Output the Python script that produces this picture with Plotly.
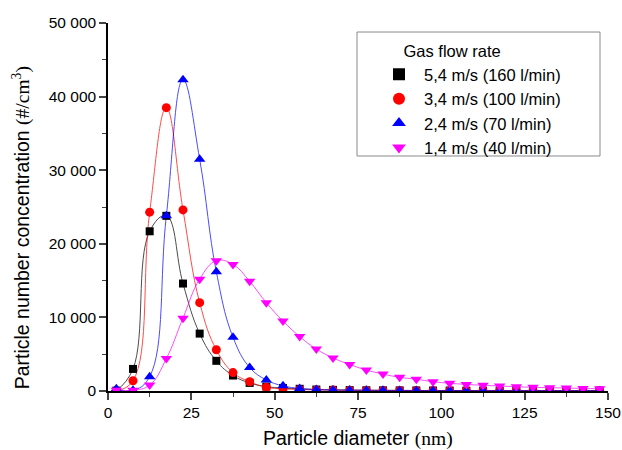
import plotly.graph_objects as go

diameter = [2.5 + 5 * i for i in range(30)]

series_names = ["5,4 m/s (160 l/min)", "3,4 m/s (100 l/min)",
                "2,4 m/s (70 l/min)", "1,4 m/s (40 l/min)"]

conc_54 = [50, 3000, 21700, 23800, 14600, 7800, 4100, 2100, 1100, 600,
           400, 300, 200, 150, 120, 100, 90, 80, 70, 60,
           60, 50, 50, 50, 50, 50, 50, 50, 50, 50]
conc_34 = [50, 1400, 24300, 38500, 24600, 12000, 5600, 2500, 1260, 500,
           300, 200, 150, 120, 100, 90, 80, 70, 60, 60,
           50, 50, 50, 50, 50, 50, 50, 50, 50, 50]
conc_24 = [300, 100, 1950, 23800, 42300, 31500, 16200, 7300, 3200, 1500,
           700, 350, 200, 150, 120, 100, 90, 80, 70, 60,
           60, 50, 50, 50, 50, 50, 50, 50, 50, 50]
conc_14 = [100, 100, 800, 4400, 9900, 15200, 17700, 17200, 14900, 12000,
           9500, 7400, 5700, 4500, 3600, 2850, 2300, 1860, 1600, 1270,
           1050, 900, 770, 680, 580, 500, 450, 400, 350, 300]

y_tick_vals = [0, 10000, 20000, 30000, 40000, 50000]
y_tick_text = ["0", "10 000", "20 000", "30 000", "40 000", "50 000"]
x_tick_vals = [0, 25, 50, 75, 100, 125, 150]

colors = ["#000000", "#ff0000", "#0000ff", "#ff00ff"]
symbols = ["square", "circle", "triangle-up", "triangle-down"]
sizes = [8, 9, 10, 10]
all_series = [conc_54, conc_34, conc_24, conc_14]

fig = go.Figure()
for name, ys, c in zip(series_names, all_series, colors):
    fig.add_trace(go.Scatter(
        x=diameter, y=ys, mode="lines",
        line=dict(color=c, width=1, shape="spline", smoothing=1.2),
        opacity=0.7, showlegend=False, hoverinfo="skip"))
for name, ys, c, s, sz in zip(series_names, all_series, colors, symbols, sizes):
    fig.add_trace(go.Scatter(
        x=diameter, y=ys, mode="markers", name=name,
        marker=dict(color=c, symbol=s, size=sz, line=dict(width=0))))

font_main = "Liberation Sans, Arial, sans-serif"

# legend frame
fig.add_shape(type="rect", xref="paper", yref="paper",
              x0=0.498, x1=0.984, y0=0.6386, y1=0.9755,
              line=dict(color="#8a8a8a", width=1), fillcolor="white", layer="below")

# axis titles as annotations
fig.add_annotation(
    text="Particle diameter <span style='font-family:Liberation Serif'>(nm)</span>",
    xref="paper", yref="paper", x=0.5, y=-0.130, xanchor="center", yanchor="middle",
    showarrow=False, font=dict(size=19.5, family=font_main, color="#000"))
fig.add_annotation(
    text="Particle number concentration <span style='font-family:Liberation Serif'>(#/cm<sup>3</sup>)</span>",
    xref="paper", yref="paper", x=-0.174, y=0.442, xanchor="center", yanchor="middle",
    textangle=-90, showarrow=False, font=dict(size=19.5, family=font_main, color="#000"))

fig.update_layout(
    width=622, height=450,
    margin=dict(l=108, r=14, t=23, b=59, autoexpand=False),
    paper_bgcolor="white", plot_bgcolor="white",
    font=dict(family=font_main, size=15.5, color="#000"),
    showlegend=True,
    legend=dict(
        x=0.532, y=0.966, xanchor="left", yanchor="top",
        borderwidth=0, bgcolor="rgba(0,0,0,0)",
        font=dict(size=16.5, family=font_main),
        title=dict(text="\u00a0\u00a0\u00a0\u00a0\u00a0\u00a0Gas flow rate",
                   font=dict(size=16.5, family=font_main)),
        itemsizing="constant", tracegroupgap=0, itemwidth=40,
    ),
    xaxis=dict(
        range=[0, 150], tickvals=x_tick_vals, ticks="outside", ticklen=7,
        tickwidth=1.5, linecolor="#000", linewidth=1.5, showgrid=False,
        zeroline=False, tickfont=dict(size=15.5), automargin=False,
        minor=dict(dtick=12.5, tick0=0, ticks="outside", ticklen=4, tickwidth=1.3, showgrid=False),
    ),
    yaxis=dict(
        range=[0, 50000], tickvals=y_tick_vals, ticktext=y_tick_text,
        ticks="outside", ticklen=7, tickwidth=1.5, linecolor="#000", linewidth=1.5,
        showgrid=False, zeroline=False, tickfont=dict(size=15.5), automargin=False,
        ticklabelstandoff=0,
        minor=dict(dtick=5000, tick0=0, ticks="outside", ticklen=4, tickwidth=1.3, showgrid=False),
    ),
)

fig.write_html(
    "out.html",
    config={"displayModeBar": False},
    post_script="document.body.style.margin='0';document.body.style.overflow='hidden';",
)
